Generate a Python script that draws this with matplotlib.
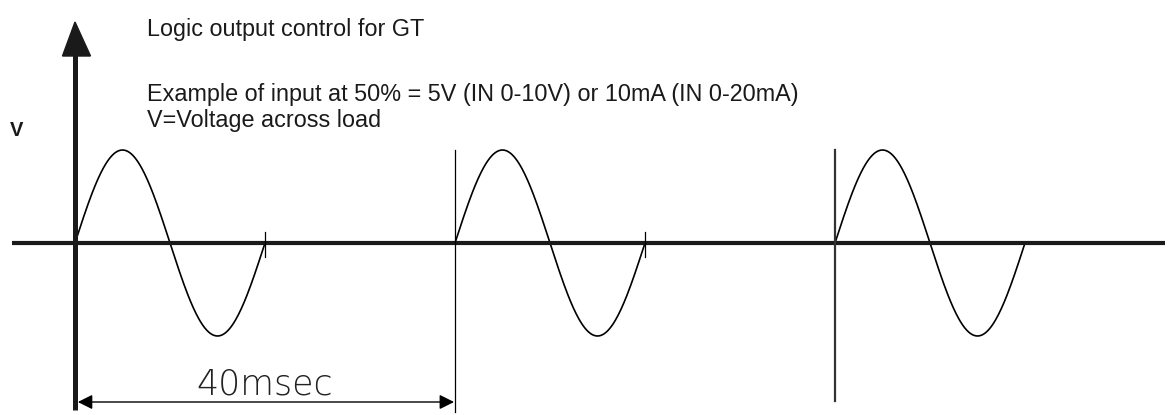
import matplotlib.pyplot as plt
import numpy as np
from matplotlib.patches import Polygon

# waveform data (time in ms, amplitude normalised)
cycle_starts = [0, 40, 80]      # ms, start of each conducted cycle
period = 20                     # ms, one full mains cycle
amplitude = 1.0
tick_marks = [20, 60]           # small ticks where the first two cycles end
sync_lines = [40, 80]           # thin vertical markers
dim_start, dim_end = 0, 40
dim_label = "40msec"

title_text = "Logic output control for GT"
note_lines = ["Example of input at 50% = 5V (IN 0-10V) or 10mA (IN 0-20mA)",
              "V=Voltage across load"]
y_label = "V"

# pixel mapping: origin at (75, 243), 9.5 px per ms, 93 px per unit
W, H = 1168, 415
x0, y0 = 75.0, 243.0
sx, sy = 9.5, 93.0

def px(x):
    return (x - x0) / sx

def py(y):
    return (y0 - y) / sy

fig = plt.figure(figsize=(W / 100, H / 100), dpi=100)
ax = fig.add_axes([0, 0, 1, 1])
ax.set_xlim(px(0), px(W))
ax.set_ylim(py(H), py(0))
ax.axis('off')

# sine cycles
for s in cycle_starts:
    t = np.linspace(0, period, 200)
    ax.plot(s + t, amplitude * np.sin(2 * np.pi * t / period), color='black', lw=1.2)

# horizontal axis
ax.plot([px(12), px(1165)], [0, 0], color='#1a1a1a', lw=3.0, solid_capstyle='butt')

# vertical axis with arrow
ax.plot([0, 0], [py(410), py(55)], color='#1a1a1a', lw=3.6, solid_capstyle='butt')
ax.add_patch(Polygon([[px(62.5), py(56)], [px(90.5), py(56)], [0, py(22)]],
                     closed=True, color='#1a1a1a'))

# small end ticks
for t in tick_marks:
    ax.plot([t, t], [py(232), py(257)], color='black', lw=0.9)

# thin vertical markers
ax.plot([sync_lines[0]] * 2, [py(150), py(412)], color='black', lw=0.9)
ax.plot([sync_lines[1]] * 2, [py(150), py(401)], color='#333333', lw=1.6)

# dimension line
ax.annotate('', xy=(dim_start + 0.3, py(402)), xytext=(dim_end - 0.1, py(402)),
            arrowprops=dict(arrowstyle='<|-|>', color='black', lw=1.0,
                            mutation_scale=22, shrinkA=0, shrinkB=0))
ax.text(px(265), py(394), dim_label, ha='center', va='baseline',
        fontsize=25, family='DejaVu Sans', fontweight=200, color='#222222')

# texts
txt = dict(family='Liberation Sans', color='#1a1a1a', fontsize=16.8)
ax.text(px(147), py(30), title_text, va='center', ha='left', **txt)
ax.text(px(147), py(94), note_lines[0], va='center', ha='left', **txt)
ax.text(px(147), py(120), note_lines[1], va='center', ha='left', **txt)
ax.text(px(10), py(131), y_label, va='center', ha='left', fontweight='bold',
        family='Liberation Sans', color='#1a1a1a', fontsize=14.5)

fig.savefig('out.png', dpi=100)
